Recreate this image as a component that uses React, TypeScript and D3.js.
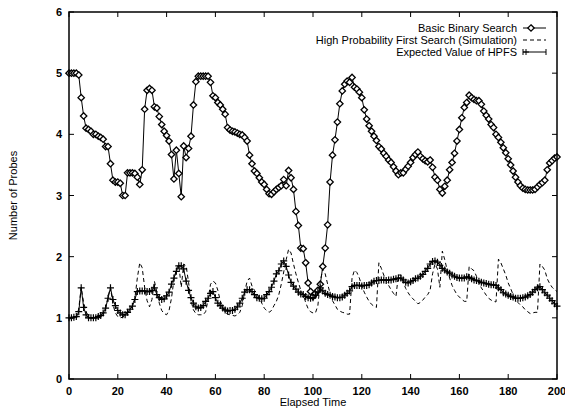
import React from 'react';
import { scaleLinear, line } from 'd3';

// values, one per time step 0..200
const basicBinary = [
  5.0, 5.0, 5.0, 5.0, 4.97, 4.6, 4.3, 4.1, 4.08, 4.05,
  4.0, 4.0, 3.97, 3.95, 3.92, 3.8, 3.8, 3.52, 3.25, 3.22,
  3.22, 3.2, 3.0, 3.0, 3.37, 3.37, 3.37, 3.36, 3.3, 3.18,
  3.42, 4.41, 4.72, 4.75, 4.72, 4.45, 4.43, 4.29, 4.16, 4.05,
  3.98, 3.89, 3.67, 3.27, 3.74, 3.36, 2.98, 3.81, 3.62, 3.77,
  3.97, 4.48, 4.86, 4.95, 4.95, 4.95, 4.95, 4.95, 4.85, 4.63,
  4.6, 4.52, 4.48, 4.41, 4.33, 4.11, 4.07, 4.05, 4.04, 4.02,
  4.0, 3.99, 3.95, 3.89, 3.66, 3.52, 3.4, 3.36, 3.29, 3.22,
  3.18, 3.1, 3.03, 3.02, 3.06, 3.1, 3.13, 3.16, 3.26, 3.16,
  3.41, 3.29, 3.1, 2.74, 2.51, 2.14, 2.13, 1.9, 1.57, 1.43,
  1.35, 1.4, 1.45, 1.55, 1.84, 2.14, 2.52, 3.22, 3.66, 3.91,
  4.2, 4.5, 4.71, 4.82, 4.87, 4.85, 4.93, 4.77, 4.74, 4.69,
  4.6, 4.4, 4.25, 4.14, 4.05, 3.97, 3.9, 3.8, 3.76, 3.69,
  3.64, 3.58, 3.54, 3.47, 3.4, 3.34, 3.37, 3.37, 3.43, 3.48,
  3.54, 3.62, 3.67, 3.71, 3.64, 3.6, 3.57, 3.55, 3.58, 3.46,
  3.3, 3.25, 3.1, 3.04, 3.15, 3.25, 3.42, 3.54, 3.69, 3.89,
  4.08, 4.27, 4.44, 4.52, 4.64, 4.6, 4.57, 4.55, 4.55, 4.49,
  4.38, 4.31, 4.25, 4.16, 4.11, 4.0, 3.95, 3.87, 3.78, 3.7,
  3.6, 3.5, 3.4, 3.3, 3.22, 3.16, 3.12, 3.1, 3.09, 3.09,
  3.09, 3.1, 3.14, 3.18, 3.21, 3.25, 3.42, 3.53, 3.57, 3.61,
  3.63,
];

const hpfsSim = [
  0.98, 0.99, 1.0, 1.0, 1.15, 1.5, 1.25, 1.1, 1.03, 1.0,
  1.0, 1.0, 1.0, 1.01, 1.05, 1.15, 1.35, 1.5, 1.22, 1.08,
  1.02, 1.0, 1.01, 1.04, 1.08, 1.13, 1.2, 1.32, 1.65, 1.9,
  1.82, 1.5, 1.28, 1.18, 1.3, 1.6, 1.42, 1.24, 1.12, 1.07,
  1.05, 1.12, 1.32, 1.62, 1.8, 1.87, 1.5, 1.88, 1.85, 1.58,
  1.28, 1.13, 1.07, 1.05, 1.05, 1.05, 1.1, 1.3, 1.55, 1.6,
  1.57, 1.45, 1.28, 1.16, 1.09, 1.06, 1.05, 1.04, 1.03, 1.05,
  1.09, 1.2, 1.42, 1.6, 1.65, 1.52, 1.45, 1.4, 1.33, 1.24,
  1.16, 1.12, 1.09, 1.12, 1.2, 1.27, 1.38, 1.55, 1.75, 1.95,
  2.12, 2.06, 1.88, 1.72, 1.58, 1.45, 1.38, 1.25, 1.15, 1.1,
  1.08, 1.08, 1.2, 1.6, 1.8, 1.72, 1.55, 1.4, 1.28, 1.21,
  1.14, 1.11, 1.09, 1.08, 1.06, 1.06, 1.65, 1.78, 1.74, 1.65,
  1.52, 1.42, 1.34, 1.27, 1.22, 1.19, 1.17, 1.9, 1.81, 1.7,
  1.6, 1.53, 1.46, 1.4, 1.35, 1.7, 1.7, 1.58, 1.48, 1.41,
  1.35, 1.31, 1.27, 1.23, 1.25, 1.29, 1.34, 1.38, 1.45, 1.72,
  1.88, 1.8, 1.5, 2.09, 1.95, 1.78, 1.65, 1.53, 1.45, 1.38,
  1.34, 1.3, 1.27, 1.27, 1.84, 1.8, 1.77, 1.68, 1.58, 1.49,
  1.43, 1.37, 1.32, 1.29, 1.27, 1.26, 1.96, 1.9, 1.8, 1.7,
  1.57, 1.48, 1.38, 1.3, 1.25, 1.21, 1.18, 1.13, 1.1, 1.07,
  1.08, 1.09, 1.09, 1.88, 1.84, 1.78, 1.64, 1.56, 1.5, 1.46,
  1.43,
];

const hpfsExpected = [
  1.0, 1.0, 1.01, 1.02, 1.1, 1.49, 1.17, 1.05, 1.0, 1.0,
  1.0, 1.0, 1.02, 1.04, 1.08, 1.16, 1.32, 1.49, 1.3, 1.2,
  1.12, 1.08, 1.05, 1.05, 1.09, 1.14, 1.19, 1.3, 1.43, 1.44,
  1.44, 1.44, 1.43, 1.43, 1.45, 1.49, 1.38, 1.33, 1.3, 1.31,
  1.36, 1.42, 1.55, 1.65, 1.76, 1.85, 1.85, 1.8, 1.6, 1.45,
  1.33, 1.24, 1.18, 1.16, 1.17, 1.2, 1.27, 1.32, 1.4, 1.43,
  1.33, 1.24, 1.2, 1.16, 1.13, 1.11, 1.12, 1.12, 1.14, 1.18,
  1.24, 1.32, 1.42, 1.46, 1.46, 1.43, 1.38, 1.33, 1.32, 1.31,
  1.32, 1.38, 1.43, 1.5, 1.6, 1.72, 1.77, 1.88, 1.93, 1.84,
  1.7, 1.58, 1.52, 1.47, 1.42, 1.39, 1.38, 1.35, 1.33, 1.32,
  1.33, 1.37, 1.42, 1.49, 1.44, 1.4, 1.38, 1.37, 1.35, 1.34,
  1.33, 1.33, 1.34, 1.37, 1.4, 1.44, 1.51, 1.53, 1.53, 1.53,
  1.52, 1.53, 1.53, 1.54, 1.57, 1.6, 1.61, 1.61, 1.62, 1.62,
  1.61, 1.62, 1.62, 1.63, 1.64, 1.65, 1.65, 1.62, 1.58, 1.57,
  1.59, 1.61, 1.64, 1.65, 1.68, 1.71, 1.76, 1.81, 1.88, 1.92,
  1.93, 1.91, 1.86, 1.81, 1.78, 1.75, 1.73, 1.7, 1.68, 1.66,
  1.65, 1.65, 1.65, 1.67, 1.66, 1.64, 1.62, 1.61, 1.6, 1.58,
  1.57, 1.56, 1.55, 1.54, 1.54, 1.53, 1.49, 1.46, 1.41, 1.39,
  1.37, 1.35, 1.34, 1.32, 1.32, 1.32, 1.33, 1.34, 1.36, 1.38,
  1.42, 1.46, 1.49, 1.51, 1.46, 1.41, 1.37, 1.32, 1.28, 1.23,
  1.19,
];

const xTickValues = [0, 20, 40, 60, 80, 100, 120, 140, 160, 180, 200];
const yTickValues = [0, 1, 2, 3, 4, 5, 6];
const legendLabels = [
  'Basic Binary Search',
  'High Probability First Search (Simulation)',
  'Expected Value of HPFS',
];

const font = '"Liberation Sans", Arial, Helvetica, sans-serif';

export default function App() {
  const width = 565, height = 408;
  const left = 69, right = 557, top = 12, bottom = 379;

  const x = scaleLinear().domain([0, 200]).range([left, right]);
  const y = scaleLinear().domain([0, 6]).range([bottom, top]);

  const toPts = (arr: number[]) => arr.map((v, i) => [i, v] as [number, number]);
  const lineF = line<[number, number]>().x(d => x(d[0])).y(d => y(d[1]));

  const bbs = toPts(basicBinary);
  const sim = toPts(hpfsSim);
  const exp = toPts(hpfsExpected);

  const diamond = (cx: number, cy: number, r = 3.2) =>
    `M${cx},${cy - r}L${cx + r},${cy}L${cx},${cy + r}L${cx - r},${cy}Z`;
  const plus = (cx: number, cy: number, r = 3.5) =>
    `M${cx - r},${cy}H${cx + r}M${cx},${cy - r}V${cy + r}`;

  const tick = 5;
  const legX1 = 523, legX2 = 546, legTextX = 517;
  const legY = [28, 40, 52];

  return (
    <svg width={width} height={height} style={{ position: 'absolute', left: 0, top: 0, background: '#fff' }}>
      {/* ticks, inward on all four sides */}
      <g stroke="#000" strokeWidth={1}>
        {xTickValues.map(d => (
          <g key={'xt' + d}>
            <line x1={x(d)} x2={x(d)} y1={bottom} y2={bottom - tick} />
            <line x1={x(d)} x2={x(d)} y1={top} y2={top + tick} />
          </g>
        ))}
        {yTickValues.map(d => (
          <g key={'yt' + d}>
            <line x1={left} x2={left + tick} y1={y(d)} y2={y(d)} />
            <line x1={right} x2={right - tick} y1={y(d)} y2={y(d)} />
          </g>
        ))}
      </g>
      <g fontFamily={font} fontSize={11} fontWeight="bold" fill="#000">
        {xTickValues.map(d => (
          <text key={'xl' + d} x={x(d)} y={bottom + 16} textAnchor="middle">{d}</text>
        ))}
        {yTickValues.map(d => (
          <text key={'yl' + d} x={left - 7} y={y(d) + 4} textAnchor="end">{d}</text>
        ))}
      </g>
      <text x={(left + right) / 2} y={406} textAnchor="middle" fontFamily={font} fontSize={11}>Elapsed Time</text>
      <text transform={`translate(17,${(top + bottom) / 2}) rotate(-90)`} textAnchor="middle" fontFamily={font} fontSize={11}>Number of Probes</text>

      {/* Basic Binary Search */}
      <path d={lineF(bbs) || ''} fill="none" stroke="#000" strokeWidth={1} />
      <g fill="#fff" stroke="#000" strokeWidth={1.3}>
        {bbs.map(d => <path key={'b' + d[0]} d={diamond(x(d[0]), y(d[1]))} />)}
      </g>

      {/* HPFS simulation */}
      <path d={lineF(sim) || ''} fill="none" stroke="#000" strokeWidth={1} strokeDasharray="4,3" />

      {/* Expected value */}
      <path d={lineF(exp) || ''} fill="none" stroke="#000" strokeWidth={1} />
      <g fill="none" stroke="#000" strokeWidth={1.2}>
        {exp.map(d => <path key={'e' + d[0]} d={plus(x(d[0]), y(d[1]))} />)}
      </g>

      {/* legend */}
      <g fontFamily={font} fontSize={11} fill="#000">
        {legendLabels.map((l, i) => (
          <text key={l} x={legTextX} y={legY[i] + 4} textAnchor="end">{l}</text>
        ))}
      </g>
      <g stroke="#000" strokeWidth={1} fill="none">
        <line x1={legX1} x2={legX2} y1={legY[0]} y2={legY[0]} />
        <path d={diamond(531, legY[0])} fill="#fff" strokeWidth={1.3} />
        <line x1={legX1} x2={legX2} y1={legY[1]} y2={legY[1]} strokeDasharray="4,3" />
        <line x1={legX1} x2={legX2} y1={legY[2]} y2={legY[2]} />
        <line x1={legX1} x2={legX1} y1={legY[2] - 3} y2={legY[2] + 3} />
        <line x1={legX2} x2={legX2} y1={legY[2] - 3} y2={legY[2] + 3} />
        <path d={plus(legX1 + 3, legY[2], 3)} />
      </g>

      {/* frame */}
      <rect x={left} y={top} width={right - left} height={bottom - top} fill="none" stroke="#000" strokeWidth={1.5} />
    </svg>
  );
}
